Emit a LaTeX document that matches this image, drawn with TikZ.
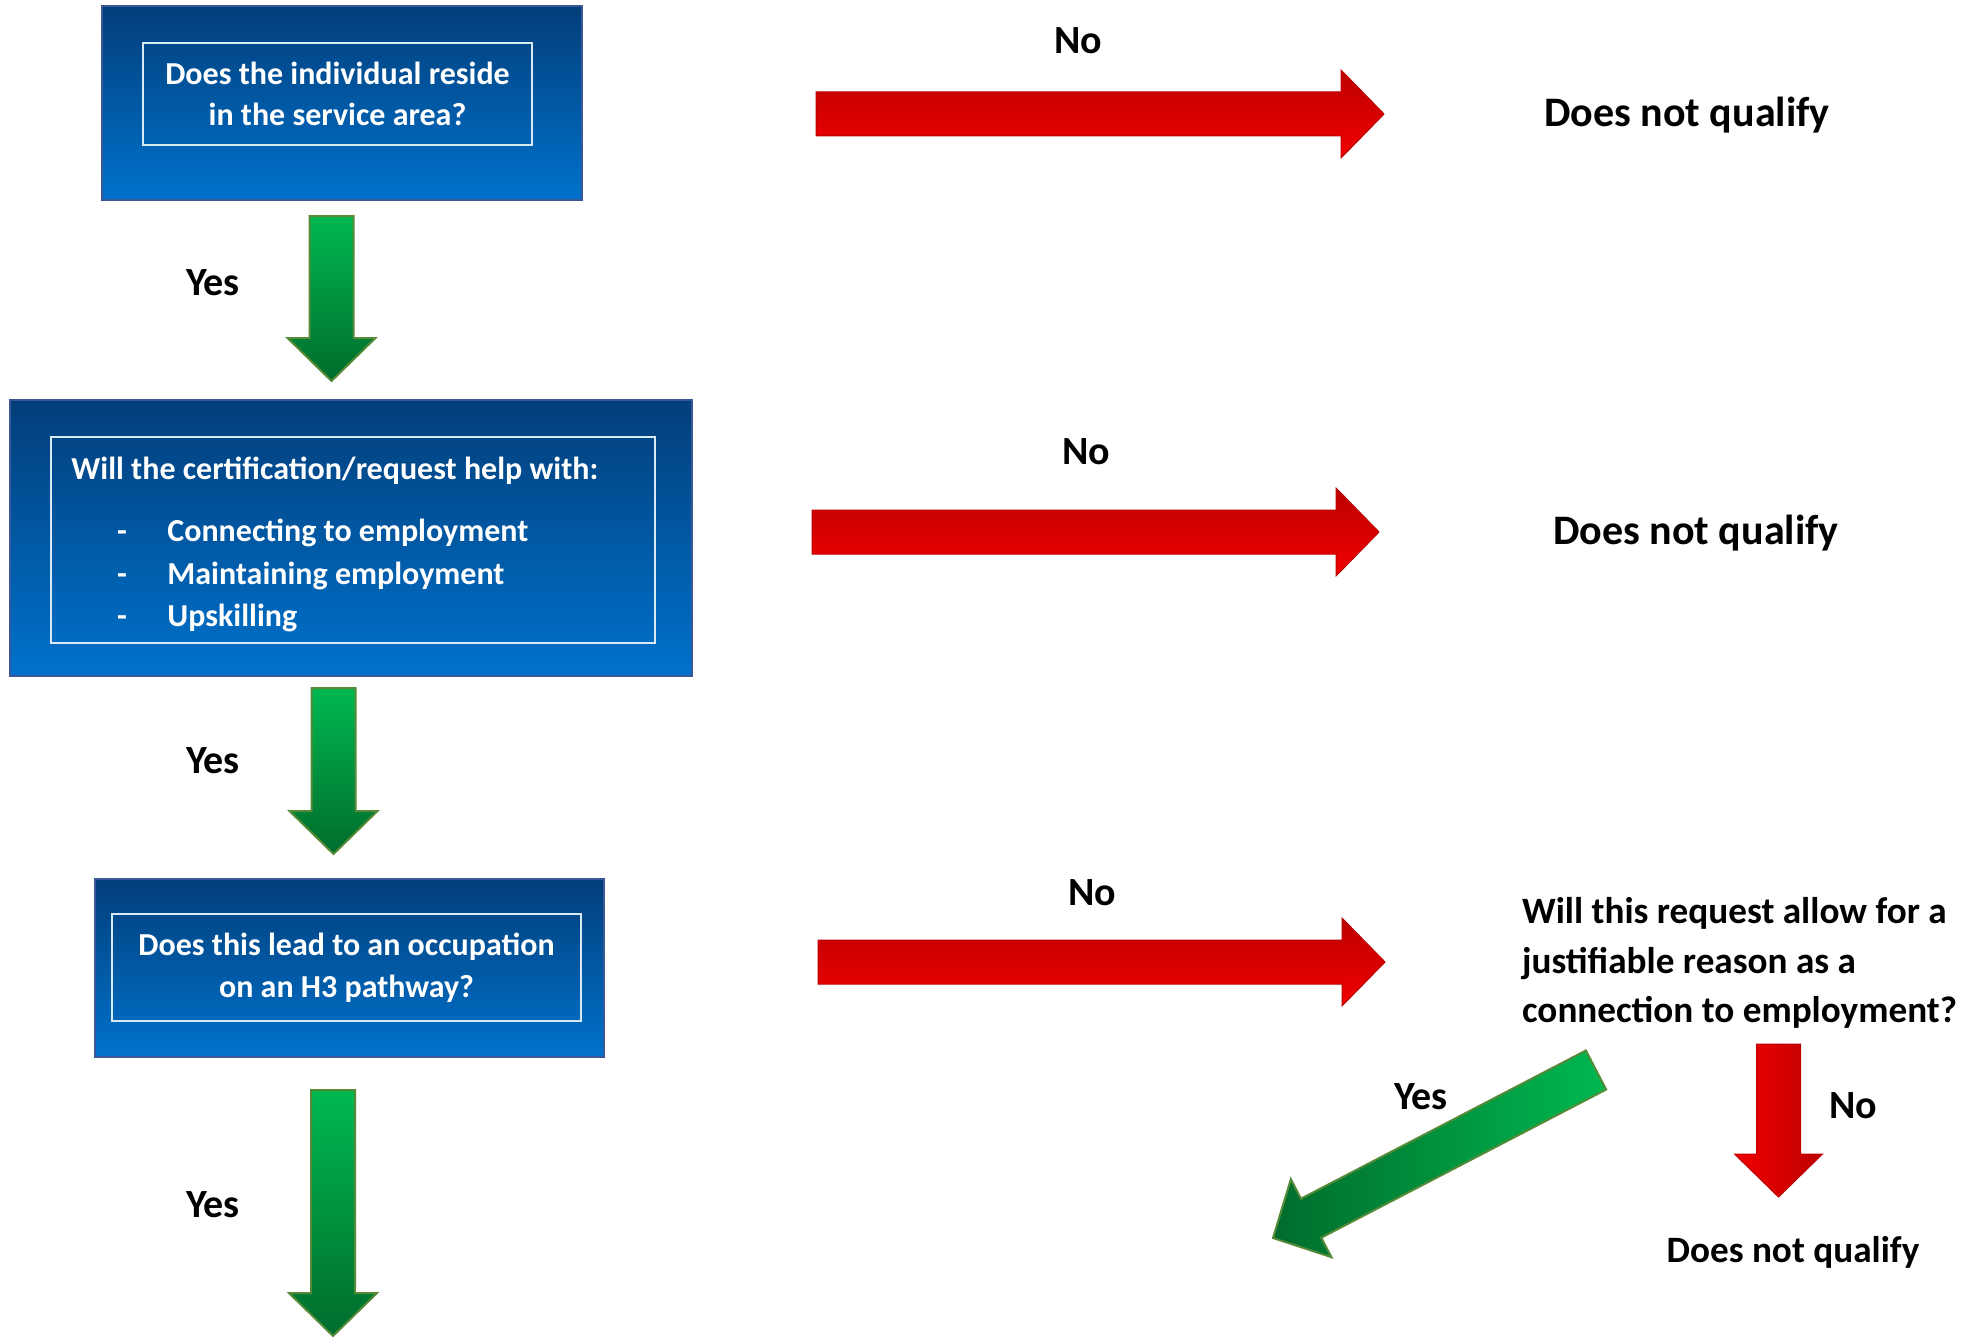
\documentclass[tikz,border=0pt]{standalone}
\usepackage{fontspec}
\setmainfont{Carlito}
\usetikzlibrary{calc}

\definecolor{boxtop}{RGB}{2,62,122}
\definecolor{boxbot}{RGB}{0,114,204}
\definecolor{boxline}{RGB}{58,88,150}
\definecolor{gtop}{RGB}{0,184,80}
\definecolor{gbot}{RGB}{0,108,44}
\definecolor{gline}{RGB}{84,138,56}
\definecolor{rdark}{RGB}{188,0,0}
\definecolor{rlight}{RGB}{242,0,0}

\NewDocumentCommand{\blockarrow}{mmm}{%
\coordinate (base) at ($(#3)!21.5pt!(#2)$);%chktex 1
\path[#1] ($(#2)!11pt!90:(#3)$) -- ($(base)!11pt!-90:(#2)$) -- ($(base)!22pt!-90:(#2)$) -- (#3)
    -- ($(base)!22pt!90:(#2)$) -- ($(base)!11pt!90:(#2)$) -- ($(#2)!11pt!-90:(#3)$) -- cycle;%chktex 8
}

\begin{document}
\begin{tikzpicture}[x=0.5pt, y=-0.5pt,
        box/.style={draw=boxline, line width=1pt, top color=boxtop, bottom color=boxbot, inner sep=0pt},
        inbox/.style={draw=white!85!boxbot, line width=0.8pt, text=white, align=center, inner sep=0pt,
            font=\fontsize{16}{20.8}\selectfont\bfseries},
        boxtext/.style={text=white, inner sep=0pt, text height=11pt, text depth=3.5pt,
            font=\fontsize{16}{20.8}\selectfont\bfseries},
        answer/.style={font=\fontsize{20}{24}\selectfont\bfseries},
        verdict/.style={font=\fontsize{21}{25}\selectfont\bfseries},
        smallverdict/.style={font=\fontsize{18.6}{24.6}\selectfont\bfseries},
        greenarrow/.style={draw=gline, line width=1pt, top color=gtop, bottom color=gbot},
        greendiag/.style={draw=gline, line width=1pt, left color=gbot, right color=gtop},
        redarrow/.style={draw=rdark, line width=0.5pt, top color=rdark, bottom color=rlight},
        reddown/.style={draw=rdark, line width=0.5pt, left color=rlight, right color=rdark}]
        \useasboundingbox (0,0) rectangle (1980,1338);

        % Questions.
        \node[box, minimum width=240pt, minimum height=97pt] (q1) at (342,103) {};
        \node[inbox, minimum width=194.5pt, minimum height=51pt] (q1in) at (337.5,94)
            {Does the individual reside\\in the service area?};
        \node[box, minimum width=341pt, minimum height=138pt] (q2) at (351,538) {};
        \node[inbox, minimum width=302pt, minimum height=103pt] (q2in) at (353,540) {};
        \node[boxtext, anchor=west] (q2head) at (71,472) {Will the certification/request help with:};
        \foreach \t [count=\i] in {Connecting to employment, Maintaining employment, Upskilling} {
            \node[boxtext] (dash\i) at (122,{534+42.5*(\i-1)}) {-};
            \node[boxtext, anchor=west] (item\i) at (167,{534+42.5*(\i-1)}) {\t};
        }
        \node[box, minimum width=254.5pt, minimum height=89pt] (q3) at (349.5,968) {};
        \node[inbox, minimum width=234.5pt, minimum height=53.5pt] (q3in) at (346.5,967.5)
            {Does this lead to an occupation\\on an H3 pathway?};
        \node[smallverdict, anchor=west, align=left] (q4) at (1515,963)
            {Will this request allow for a\\justifiable reason as a\\connection to employment?};

        % Yes path.
        \coordinate (y1s) at (331.5,216);  \coordinate (y1e) at (331.5,381);
        \coordinate (y2s) at (333.5,688);  \coordinate (y2e) at (333.5,854);
        \coordinate (y3s) at (333,1090);   \coordinate (y3e) at (333,1336);
        \coordinate (y4s) at (1596,1070);  \coordinate (y4e) at (1273,1238);
        \blockarrow{greenarrow}{y1s}{y1e}
        \blockarrow{greenarrow}{y2s}{y2e}
        \blockarrow{greenarrow}{y3s}{y3e}
        \blockarrow{greendiag}{y4s}{y4e}
        \node[answer] (yes1) at (213,283) {Yes};
        \node[answer] (yes2) at (213,761) {Yes};
        \node[answer] (yes3) at (213,1205) {Yes};
        \node[answer] (yes4) at (1421,1097) {Yes};

        % No path.
        \coordinate (n1s) at (816,114);    \coordinate (n1e) at (1384,114);
        \coordinate (n2s) at (812,532);    \coordinate (n2e) at (1379,532);
        \coordinate (n3s) at (818,962);    \coordinate (n3e) at (1385,962);
        \coordinate (n4s) at (1778.5,1044); \coordinate (n4e) at (1778.5,1197);
        \blockarrow{redarrow}{n1s}{n1e}
        \blockarrow{redarrow}{n2s}{n2e}
        \blockarrow{redarrow}{n3s}{n3e}
        \blockarrow{reddown}{n4s}{n4e}
        \node[answer] (no1) at (1078,41) {No};
        \node[answer] (no2) at (1086,452) {No};
        \node[answer] (no3) at (1092,893) {No};
        \node[answer] (no4) at (1853,1106) {No};
        \node[verdict] (dnq1) at (1687,115) {Does not qualify};
        \node[verdict] (dnq2) at (1696,533) {Does not qualify};
        \node[smallverdict] (dnq3) at (1793,1252) {Does not qualify};
\end{tikzpicture}
\end{document}
